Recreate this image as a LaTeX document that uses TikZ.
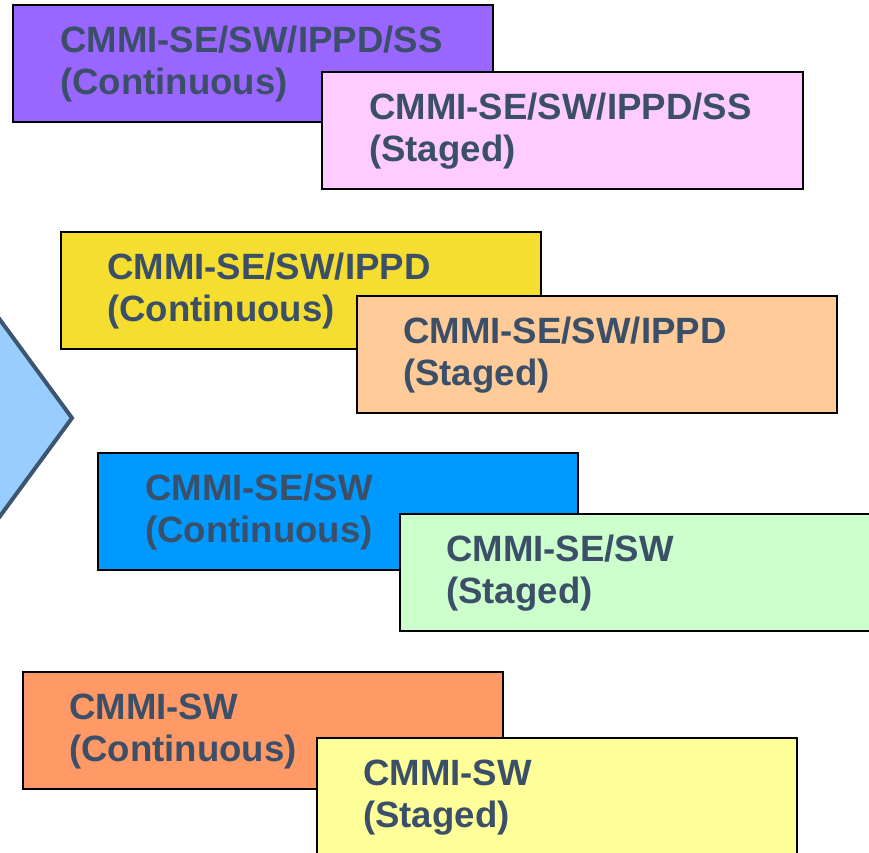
\documentclass[tikz,border=0pt]{standalone}
\usepackage{fontspec}
\setmainfont{Liberation Sans}
\begin{document}
\begin{tikzpicture}[x=1pt,y=-1pt,
  box/.style={draw=black, line width=1.6pt, minimum width=480pt, minimum height=117pt, anchor=north west, inner sep=0pt, outer sep=0pt},
  lbl/.style={anchor=base west, inner sep=0pt, text width=440pt, align=left, text=txtc, font=\fontsize{36.6}{42}\selectfont\bfseries}]
\definecolor{txtc}{HTML}{3B5068}
\definecolor{arrfill}{HTML}{99CCFF}
\definecolor{arrline}{HTML}{3D5670}
\definecolor{cpurple}{HTML}{9966FF}
\definecolor{cpink}{HTML}{FFCCFF}
\definecolor{cgold}{HTML}{F6DE30}
\definecolor{cpeach}{HTML}{FFCC99}
\definecolor{cblue}{HTML}{0099FF}
\definecolor{cgreen}{HTML}{CCFFCC}
\definecolor{corange}{HTML}{FF9966}
\definecolor{clyellow}{HTML}{FFFF99}
\useasboundingbox (0,0) rectangle (869,852);
\fill[white] (0,0) rectangle (869,852);
% arrow
\coordinate (atop) at (-60,238);
\coordinate (atip) at (72,418);
\coordinate (abot) at (-60,598);
\filldraw[fill=arrfill, draw=arrline, line width=4pt, line join=miter] (atop) -- (atip) -- (abot) -- cycle;
% boxes
\node[box, fill=cpurple] (p1) at (13,5) {};
\node[lbl] (p1t) at ([shift={(47,47.5)}]p1.north west) {CMMI-SE/SW/IPPD/SS\\(Continuous)};
\node[box, fill=cpink, minimum width=481pt] (p2) at (322,72) {};
\node[lbl] (p2t) at ([shift={(47,47.5)}]p2.north west) {CMMI-SE/SW/IPPD/SS\\(Staged)};
\node[box, fill=cgold] (g1) at (61,232) {};
\node[lbl] (g1t) at ([shift={(46,47.5)}]g1.north west) {CMMI-SE/SW/IPPD\\(Continuous)};
\node[box, fill=cpeach] (g2) at (357,296) {};
\node[lbl] (g2t) at ([shift={(46,47.5)}]g2.north west) {CMMI-SE/SW/IPPD\\(Staged)};
\node[box, fill=cblue] (b1) at (98,453) {};
\node[lbl] (b1t) at ([shift={(47,47.5)}]b1.north west) {CMMI-SE/SW\\(Continuous)};
\node[box, fill=cgreen] (b2) at (400,514) {};
\node[lbl] (b2t) at ([shift={(46,47.5)}]b2.north west) {CMMI-SE/SW\\(Staged)};
\node[box, fill=corange] (o1) at (23,672) {};
\node[lbl] (o1t) at ([shift={(46,47.5)}]o1.north west) {CMMI-SW\\(Continuous)};
\node[box, fill=clyellow] (y2) at (317,738) {};
\node[lbl] (y2t) at ([shift={(46,47.5)}]y2.north west) {CMMI-SW\\(Staged)};
\end{tikzpicture}
\end{document}
